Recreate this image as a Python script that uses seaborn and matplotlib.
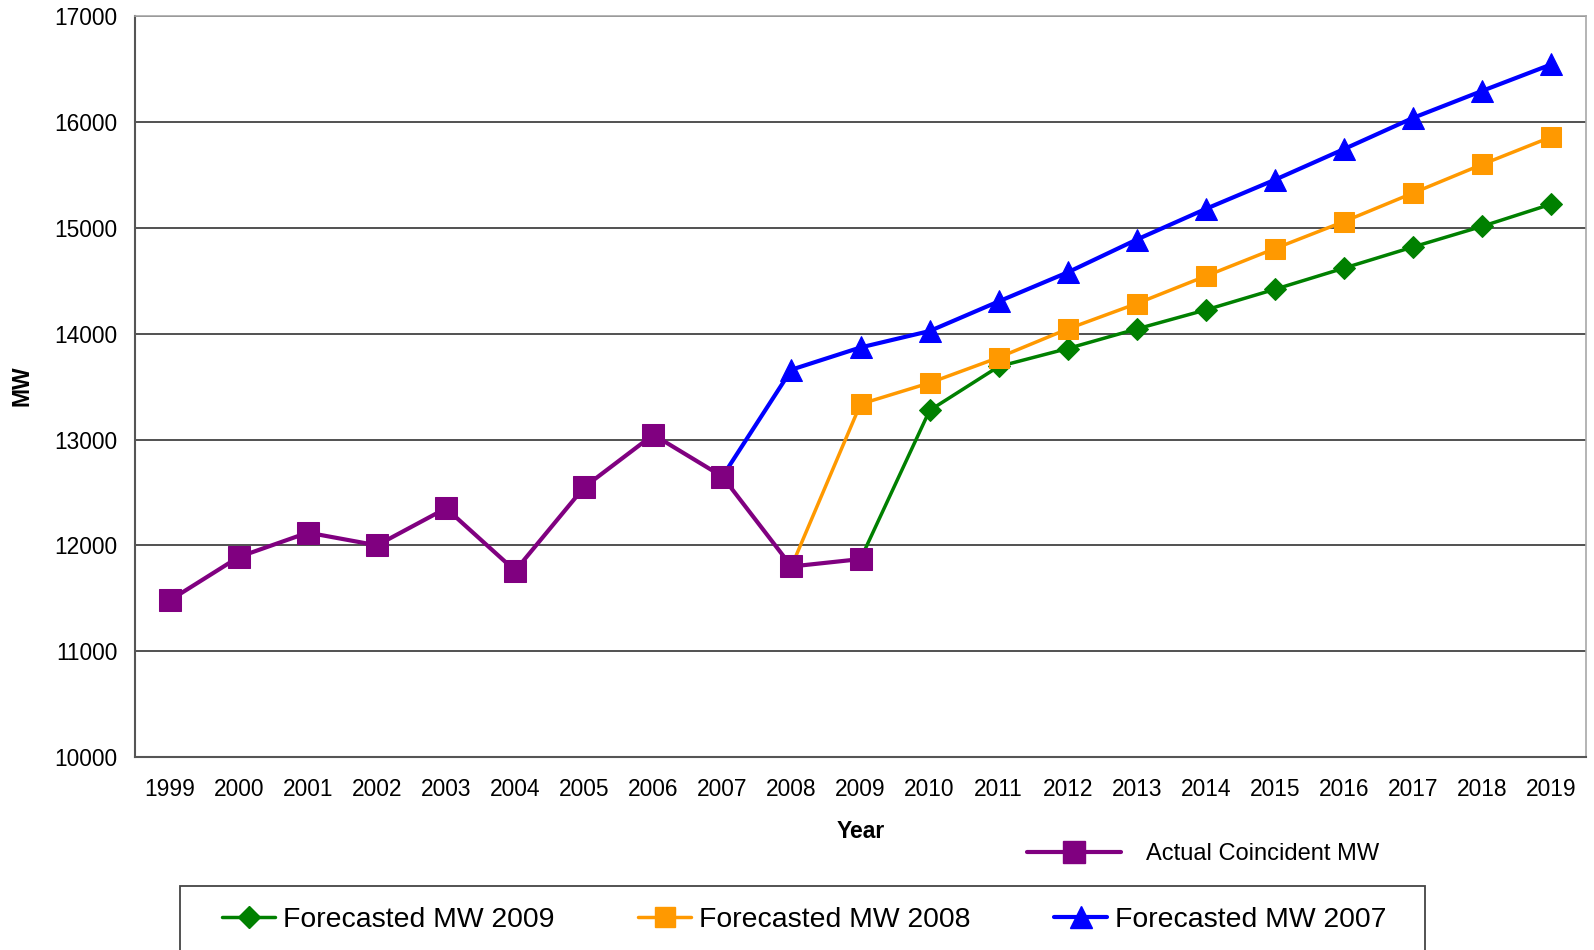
import numpy as np
import pandas as pd
import matplotlib
matplotlib.use("Agg")
import matplotlib.pyplot as plt
from matplotlib.lines import Line2D
from matplotlib.patches import Rectangle
import seaborn as sns

# data
years = list(range(1999, 2020))

actual_years = list(range(1999, 2010))
actual_mw = [11480, 11890, 12120, 12000, 12350, 11760, 12550, 13045, 12650, 11800, 11870]

fc2007_years = list(range(2007, 2020))
fc2007_mw = [12650, 13660, 13870, 14025, 14305, 14580, 14890, 15180, 15455, 15745, 16040, 16295, 16545]

fc2008_years = list(range(2008, 2020))
fc2008_mw = [11800, 13335, 13535, 13775, 14045, 14285, 14545, 14805, 15060, 15330, 15600, 15860]

fc2009_years = list(range(2009, 2020))
fc2009_mw = [11870, 13275, 13690, 13860, 14045, 14225, 14420, 14620, 14820, 15015, 15225]

sns.set_style("white")
plt.rcParams['font.family'] = ['Liberation Sans', 'DejaVu Sans']

# layout measured on a 1568x935 view of the target
W, H = 1568, 935

fig = plt.figure(figsize=(15.94, 9.5), dpi=100)
ax = fig.add_axes([133/W, 1-745/H, 1427/W, 729/H])

green = "#008000"
orange = "#FF9900"
blue = "#0000FF"
purple = "#800080"

sns.lineplot(x=fc2009_years, y=fc2009_mw, ax=ax, color=green, lw=2.5, marker="D",
             markersize=11.5, markeredgecolor=green, markevery=slice(1, None), zorder=3)
sns.lineplot(x=fc2008_years, y=fc2008_mw, ax=ax, color=orange, lw=2.5, marker="s",
             markersize=14.5, markeredgecolor=orange, markevery=slice(1, None), zorder=3)
sns.lineplot(x=fc2007_years, y=fc2007_mw, ax=ax, color=blue, lw=3, marker="^",
             markersize=15.5, markeredgecolor=blue, markevery=slice(1, None), zorder=3)
sns.lineplot(x=actual_years, y=actual_mw, ax=ax, color=purple, lw=3, marker="s",
             markersize=15.5, markeredgecolor=purple, zorder=4)

ax.set_xlim(1998.5, 2019.5)
ax.set_ylim(10000, 17000)
ax.set_yticks(np.arange(10000, 17001, 1000))
ax.set_xticks(years)
ax.set_xticklabels([str(y) for y in years])
ax.set_xticks(np.arange(1998.5, 2020, 1), minor=True)
ax.tick_params(axis="x", which="major", length=0, pad=15, labelsize=16.4, labelcolor="black")
ax.tick_params(axis="x", which="minor", length=7, width=1.3, color="#555555", direction="out")
ax.tick_params(axis="y", length=8, width=1.3, color="#555555", pad=5, labelsize=16.4,
               labelcolor="black", direction="out")

ax.grid(axis="y", color="#333333", lw=1.2)
ax.grid(axis="x", visible=False)
ax.set_axisbelow(True)
for s in ["left", "bottom"]:
    ax.spines[s].set_color("#555555")
    ax.spines[s].set_linewidth(1.5)
for s in ["top", "right"]:
    ax.spines[s].set_color("#a8a8a8")
    ax.spines[s].set_linewidth(1.2)

ax.set_xlabel("Year", fontsize=16.5, fontweight="bold", va="center", color="black")
ax.xaxis.set_label_coords(0.5, -(818-745)/729)
ax.set_ylabel("MW", fontsize=16.5, fontweight="bold", va="center", color="black")
ax.yaxis.set_label_coords((22-133)/1427, (745-380)/729)

# legend for actual values
h_act = Line2D([], [], color=purple, lw=3, marker="s", markersize=15.5, markeredgecolor=purple)
leg1 = fig.legend(handles=[h_act], labels=["Actual Coincident MW"], loc="center left",
                  bbox_to_anchor=(1010/W, 1-841/H), frameon=False, fontsize=17,
                  borderpad=0, borderaxespad=0, handlelength=4.0, handletextpad=1.05,
                  labelcolor="black")

# boxed legend for forecasts
fig.patches.append(Rectangle((177/W, -0.05), (1402-177)/W, 0.05+1-872/H,
                             transform=fig.transFigure, fill=False, ec="#444444", lw=1.3))
h_g = Line2D([], [], color=green, lw=2.5, marker="D", markersize=11.5, markeredgecolor=green)
h_o = Line2D([], [], color=orange, lw=2.5, marker="s", markersize=14.5, markeredgecolor=orange)
h_b = Line2D([], [], color=blue, lw=3, marker="^", markersize=15.5, markeredgecolor=blue)
leg2 = fig.legend(handles=[h_g, h_o, h_b],
                  labels=["Forecasted MW 2009", "Forecasted MW 2008", "Forecasted MW 2007"],
                  loc="center left", bbox_to_anchor=(218/W, 1-905/H), ncol=3,
                  frameon=False, fontsize=20.4, borderpad=0, borderaxespad=0,
                  handlelength=1.9, handletextpad=0.25, columnspacing=2.95,
                  labelcolor="black")

fig.savefig("out.png", dpi=100)
